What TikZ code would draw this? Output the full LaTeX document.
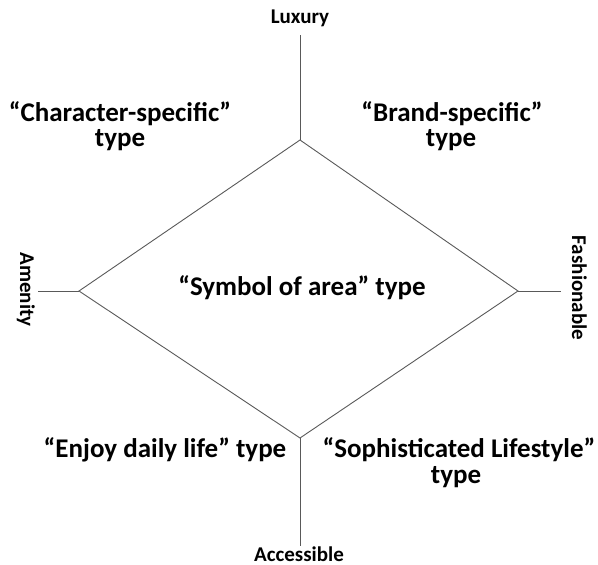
\documentclass[tikz,border=0pt]{standalone}
\usepackage{fontspec}
\setmainfont{Carlito}
\definecolor{axis}{HTML}{595959}
\tikzset{axis/.style={draw=axis,line width=0.9pt}}
\tikzset{quad/.style={black,align=center,anchor=base,font=\bfseries\fontsize{27}{30}\selectfont}}
\tikzset{pole/.style={black,anchor=base,inner sep=1pt,font=\bfseries\fontsize{21}{24}\selectfont}}

\begin{document}
\begin{tikzpicture}[x=1pt,y=-1pt]
            \useasboundingbox (0,0) rectangle (598,565);

            \coordinate (top) at (300,140);
            \coordinate (left) at (79,291);
            \coordinate (right) at (518,291);
            \coordinate (bottom) at (300,438);
            \coordinate (topEnd) at (300,35);
            \coordinate (leftEnd) at (38,291);
            \coordinate (rightEnd) at (561,291);
            \coordinate (bottomEnd) at (300,546);

            \node[pole] (lux) at (300,23) {Luxury};
            \node[pole] (acc) at (299,561) {Accessible};
            \node[pole,rotate=-90] (amen) at (20,289.5) {Amenity};
            \node[pole,rotate=-90] (fash) at (572,288) {Fashionable};

            \node[quad] (character) at (120,121) {``Character-specific''};
            \node[quad] (characterT) at (120,146) {type};
            \node[quad] (brand) at (452,121) {``Brand-specific''};
            \node[quad] (brandT) at (451,146) {type};
            \node[quad] (symbol) at (302,295) {``Symbol of area'' type};
            \node[quad] (enjoy) at (165,457) {``Enjoy daily life'' type};
            \node[quad] (soph) at (459,457) {``Sophisticated Lifestyle''};
            \node[quad] (sophT) at (456,483) {type};

            \draw[axis] (top) -- (right) -- (bottom) -- (left) -- cycle;
            \draw[axis] (topEnd) -- (top);
            \draw[axis] (leftEnd) -- (left);
            \draw[axis] (right) -- (rightEnd);
            \draw[axis] (bottom) -- (bottomEnd);
            \end{tikzpicture}
\end{document}
